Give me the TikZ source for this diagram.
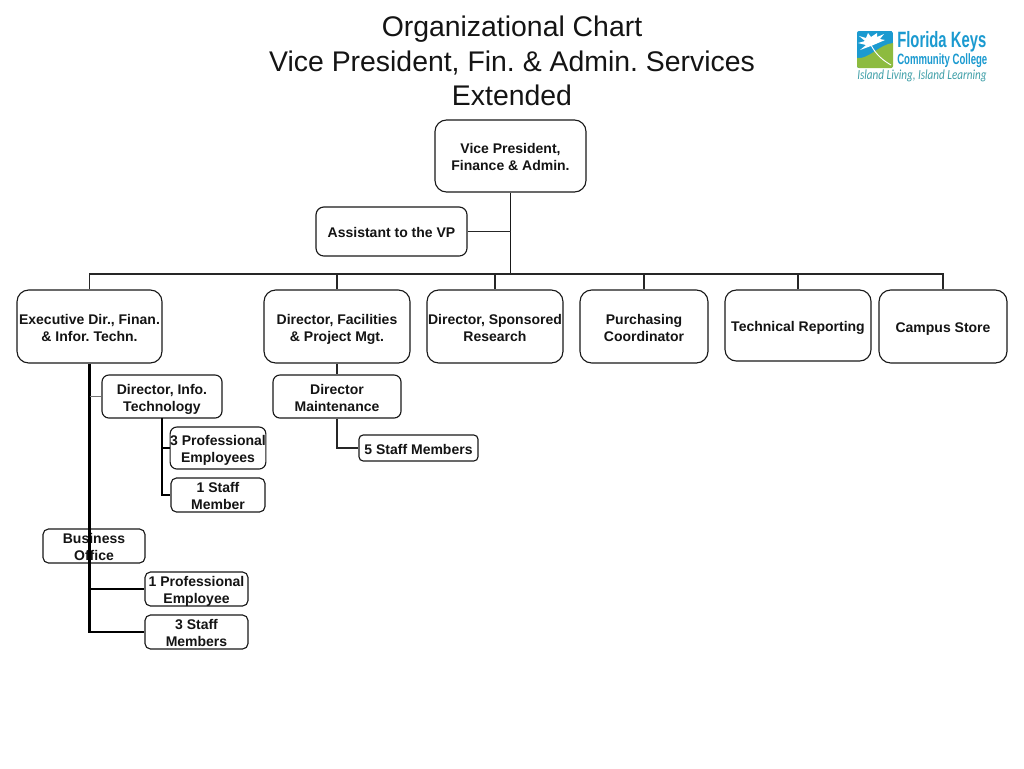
\documentclass[tikz,border=0pt]{standalone}
\usepackage{fontspec}
\usepackage{graphicx}
\setmainfont{Liberation Sans}
\newfontfamily\tagfont{Carlito}
\frenchspacing
\definecolor{logoblue}{HTML}{1B9AD0}
\definecolor{logogreen}{HTML}{8DBB3F}
\definecolor{logoteal}{HTML}{3F9FA8}
\newcommand{\orgbox}[6]{\node[orgnode,rounded corners={0.16*(#5-#3)*0.75pt},minimum width={(#4-#2)*0.75pt},minimum height={(#5-#3)*0.75pt}] (#1) at ({(#2+#4)/2},{(#3+#5)/2}) {\rule{0pt}{12pt}#6\rule[-3pt]{0pt}{3pt}};}
\begin{document}
\begin{tikzpicture}[x=0.75pt,y=-0.75pt,
  orgnode/.style={draw=black!90,line width=0.85pt,inner xsep=0pt,inner ysep=-4pt,align=center,
    font=\fontsize{10.5pt}{12.75pt}\selectfont\bfseries,text=black!92},
  thinline/.style={draw=black!85,line width=1pt},
  trunkline/.style={draw=black!90,line width=1.2pt},
  thickline/.style={draw=black,line width=2pt},
  greyline/.style={draw=black!55,line width=1pt},
  titletext/.style={font=\fontsize{21.3pt}{26pt}\selectfont,align=center,inner sep=0pt,text=black!92},
  logotext/.style={inner sep=0pt,anchor=north west,text=logoblue}]
\useasboundingbox (0,0) rectangle (1024,768);
\fill[white] (0,0) rectangle (1024,768);

% title
\node[titletext] (title) at (512,61) {Organizational Chart\\Vice President, Fin. \& Admin. Services\\Extended};

% logo
\begin{scope}
  \clip[rounded corners=1.5pt] (857,31) rectangle (893,68);
  \fill[logoblue] (857,31) rectangle (893,68);
  \fill[logogreen] (857,58) .. controls (868,60) and (880,44) .. (893,43) -- (893,68) -- (857,68) -- cycle;
  \fill[white] (871,46) -- (860,50) -- (866,45) -- (858,43) -- (865,41) -- (859,36) -- (866,38) -- (868,33) -- (871,37) -- (877,33) -- (877,37) -- (884,34) -- (880,39) -- (885,40) -- (878,43) -- cycle;
  \draw[white,line width=0.7pt] (871,45) .. controls (876,55) and (884,61) .. (891,65);
\end{scope}
\node[logotext] (logoa) at (897,31) {\resizebox*{66.75pt}{15.5pt}{\bfseries Florida Keys}};
\node[logotext] (logob) at (897,53.5) {\resizebox*{67.5pt}{10.5pt}{\bfseries Community College}};
\node[logotext,text=logoteal] (logoc) at (857,70) {\resizebox*{97pt}{9pt}{\tagfont\itshape Island Living, Island Learning}};

% boxes
\orgbox{vp}{435}{120}{586}{192}{Vice President,\\Finance \& Admin.}
\orgbox{assist}{316}{207}{467}{256}{Assistant to the VP}
\orgbox{exec}{17}{290}{162}{363}{Executive Dir., Finan.\\\& Infor. Techn.}
\orgbox{fac}{264}{290}{410}{363}{Director, Facilities\\\& Project Mgt.}
\orgbox{spons}{427}{290}{563}{363}{Director, Sponsored\\Research}
\orgbox{purch}{580}{290}{708}{363}{Purchasing\\Coordinator}
\orgbox{tech}{725}{290}{871}{361}{Technical Reporting}
\orgbox{store}{879}{290}{1007}{363}{Campus Store}
\orgbox{info}{102}{375}{222}{418}{Director, Info.\\Technology}
\orgbox{maint}{273}{375}{401}{418}{Director\\Maintenance}
\orgbox{five}{359}{435}{478}{461}{5 Staff Members}
\orgbox{threep}{171}{427}{265}{469}{3 Professional\\Employees}
\orgbox{ones}{171}{478}{265}{512}{1 Staff\\Member}
\orgbox{biz}{43}{529}{145}{563}{Business\\Office}
\orgbox{onep}{145}{572}{248}{606}{1 Professional\\Employee}
\orgbox{threes}{145}{615}{248}{649}{3 Staff\\Members}

% connectors
\coordinate (busj) at (510.5,274);
\draw[trunkline] (vp.south) -- (busj);
\draw[thinline] (assist.east) -- (assist.east -| vp.south);
\draw[thinline] (exec.north) |- (busj);
\draw[thinline] (store.north) |- (busj);
\foreach \n in {fac,spons,purch,tech}
  \draw[thinline] (\n.north) -- (\n.north |- busj);
\draw[thickline] (exec.south) |- (threes.west);
\draw[thickline] (exec.south |- onep.west) -- (onep.west);
\draw[greyline] (exec.south |- info.west) -- (info.west);
\coordinate (infodrop) at (162,418);
\draw[thickline] (infodrop) |- (ones.west);
\draw[thickline] (infodrop |- threep.west) -- (threep.west);
\draw[thinline] (fac.south) -- (maint.north -| fac.south);
\draw[thinline] (maint.south -| fac.south) |- (five.west);
\end{tikzpicture}
\end{document}
